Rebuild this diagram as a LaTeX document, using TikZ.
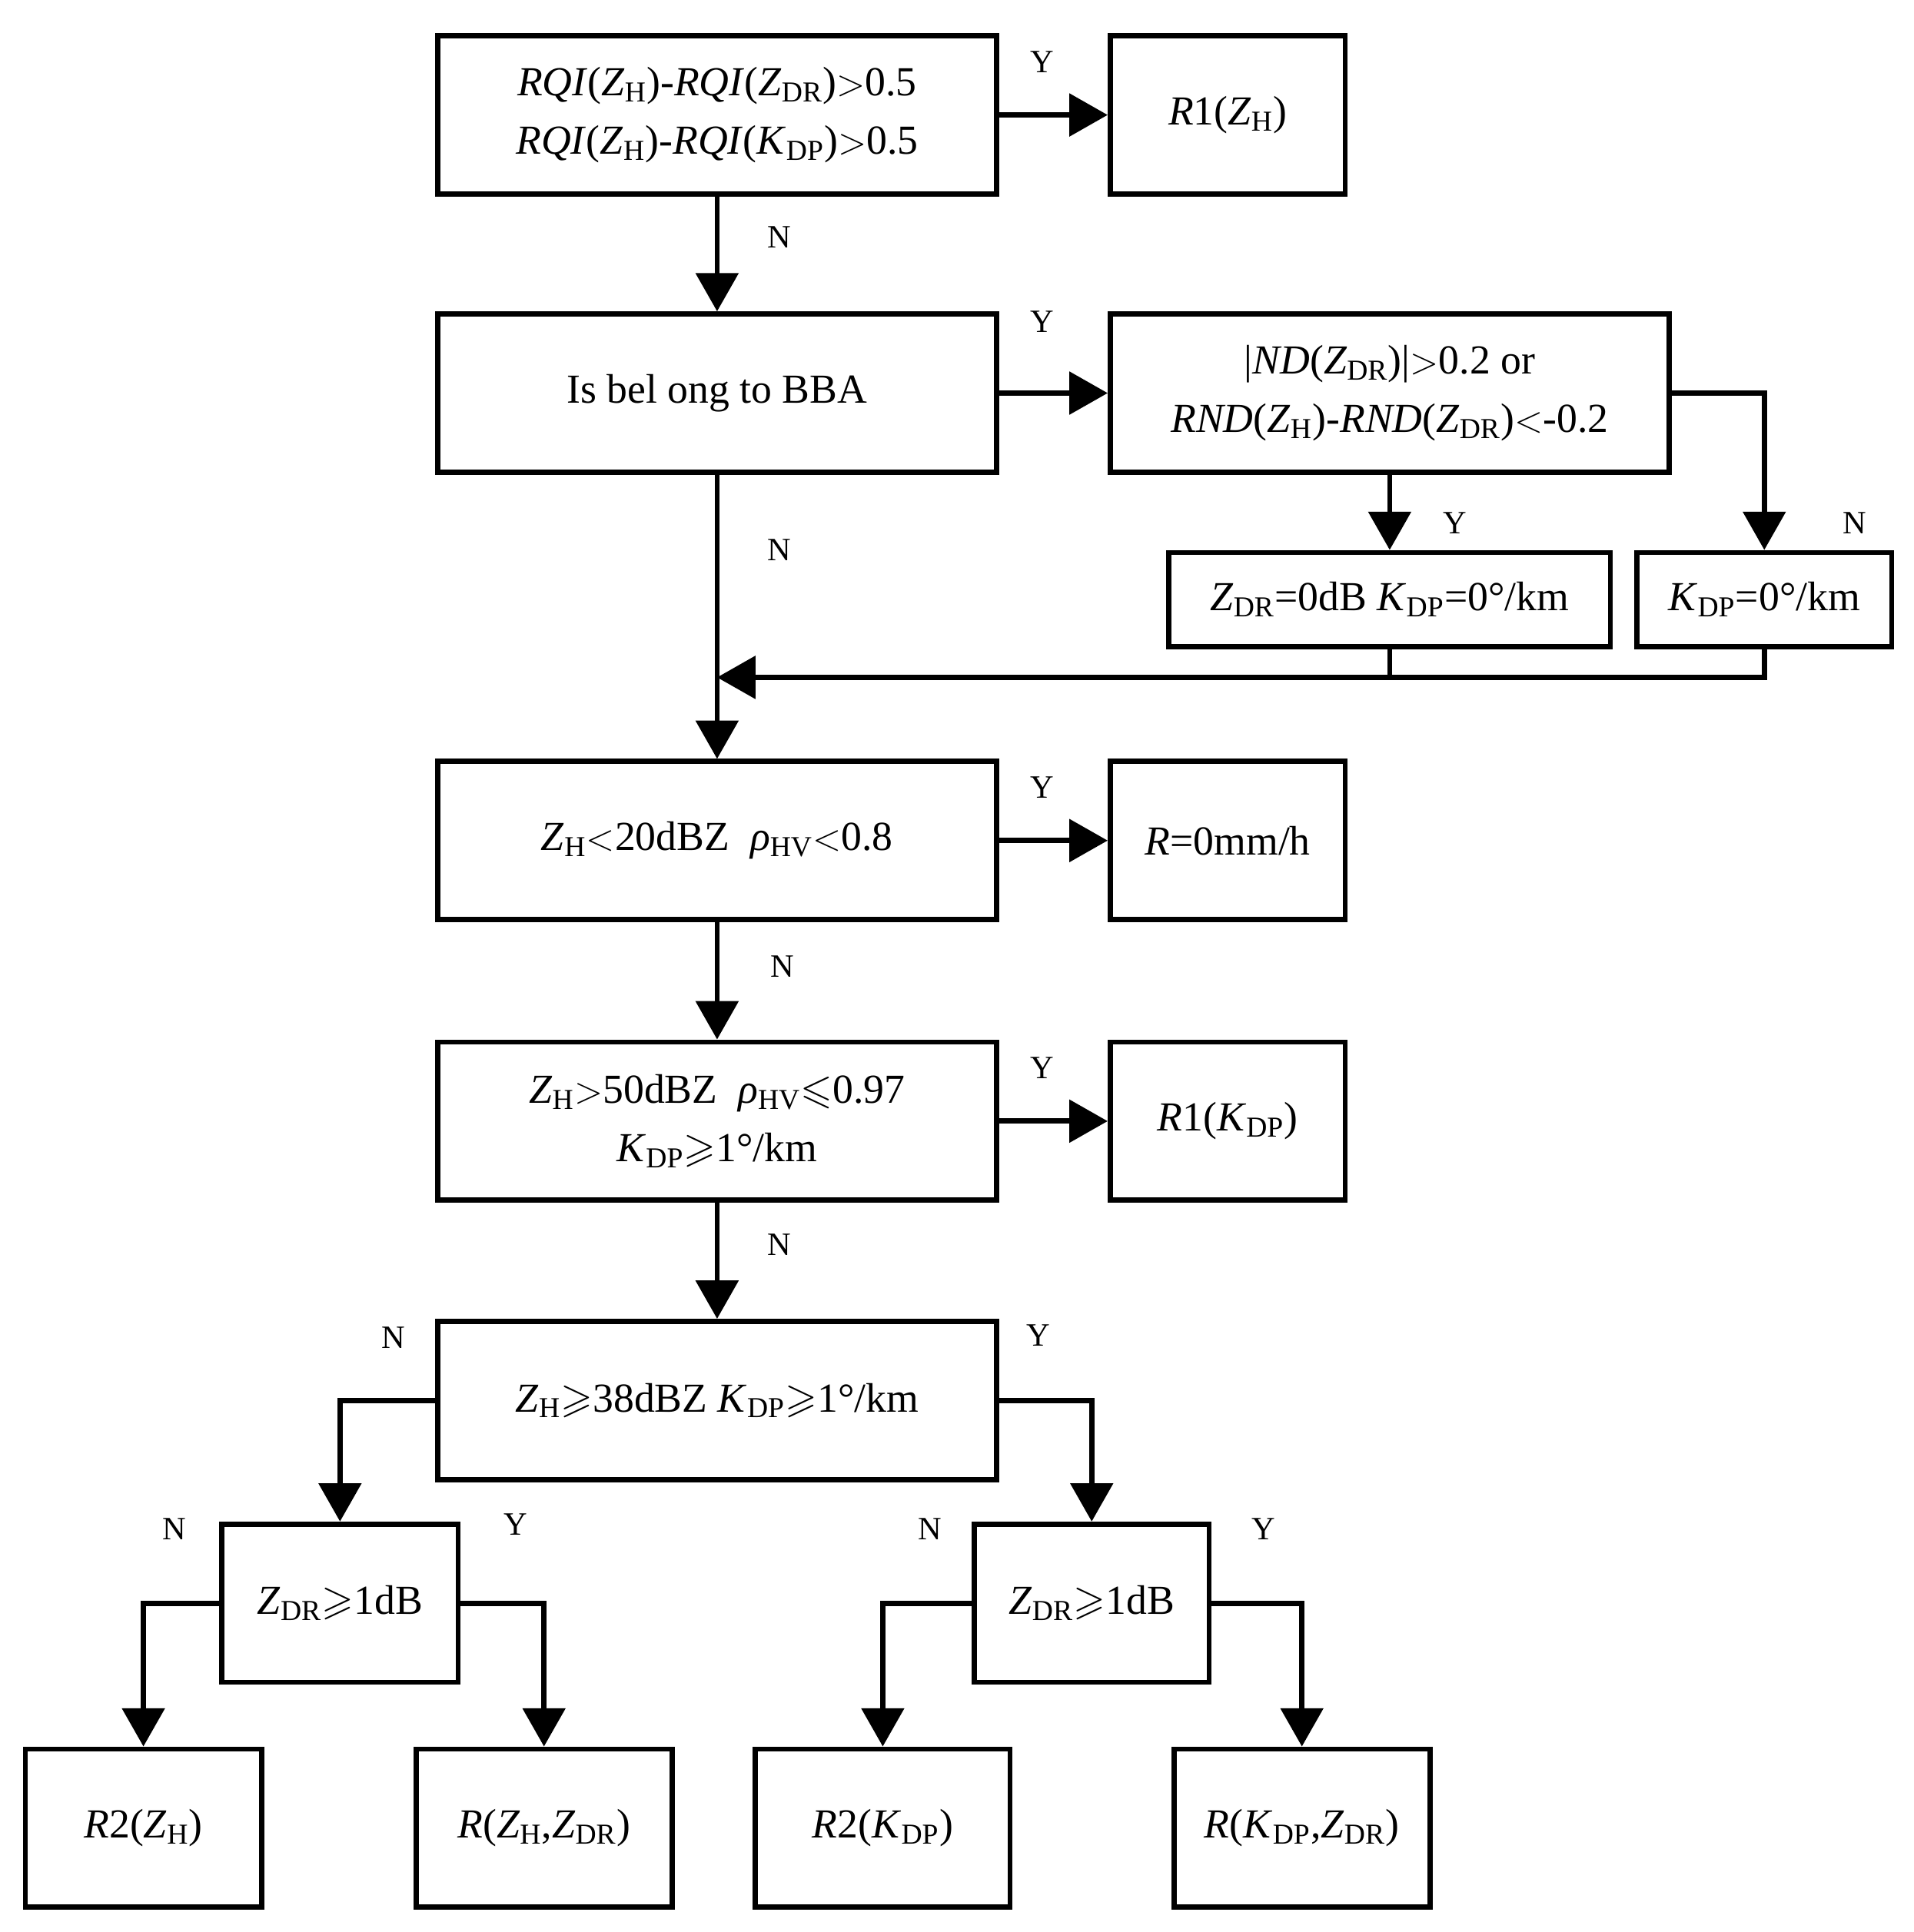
\documentclass[tikz,border=0pt]{standalone}
\usepackage{amssymb}
\usepackage{fontspec}
\setmainfont{Liberation Serif}
\usetikzlibrary{arrows.meta}
\newcommand{\sbs}[1]{\textsubscript{#1}}
\newcommand{\iz}[1]{\textit{Z}\sbs{#1}}
\newcommand{\kdp}{\textit{K}\sbs{DP}}
\begin{document}
\begin{tikzpicture}[x=0.02cm,y=-0.02cm,
 box/.style={draw,line width=2.4pt,inner sep=0pt,align=center,font=\fontsize{19}{27}\selectfont},
 arr/.style={line width=2.4pt,-{Triangle[length=0.62cm,width=0.68cm]}},
 ln/.style={line width=2.4pt},
 lab/.style={font=\fontsize{15}{18}\selectfont}]
\useasboundingbox (0,0) rectangle (1548,1563);
\def\bw{9.04cm}\def\bh{2.56cm}\def\rw{3.8cm}
\node[box,minimum width=\bw,minimum height=\bh] (b1) at (580,93) {\textit{RQI}(\iz{H})-\textit{RQI}(\iz{DR})$>$0.5\\\textit{RQI}(\iz{H})-\textit{RQI}(\kdp)$>$0.5};
\node[box,minimum width=\rw,minimum height=\bh] (r1) at (993,93) {\textit{R}1(\iz{H})};
\node[box,minimum width=\bw,minimum height=\bh] (b2) at (580,318) {Is bel ong to BBA};
\node[box,minimum width=\bw,minimum height=\bh] (b3) at (1124,318) {|\textit{ND}(\iz{DR})|$>$0.2 or\\\textit{RND}(\iz{H})-\textit{RND}(\iz{DR})$<$-0.2};
\node[box,minimum width=7.14cm,minimum height=1.52cm] (b3y) at (1124,485) {\iz{DR}=0dB \kdp=0°/km};
\node[box,minimum width=4.12cm,minimum height=1.52cm] (b3n) at (1427,485) {\kdp=0°/km};
\node[box,minimum width=\bw,minimum height=\bh] (b4) at (580,680) {\iz{H}$<$20dBZ\ \ \textit{ρ}\sbs{HV}$<$0.8};
\node[box,minimum width=\rw,minimum height=\bh] (r4) at (993,680) {\textit{R}=0mm/h};
\node[box,minimum width=\bw,minimum height=\bh] (b5) at (580,907) {\iz{H}$>$50dBZ\ \ \textit{ρ}\sbs{HV}$\leqslant$0.97\\\kdp$\geqslant$1°/km};
\node[box,minimum width=\rw,minimum height=\bh] (r5) at (993,907) {\textit{R}1(\kdp)};
\node[box,minimum width=\bw,minimum height=\bh] (b6) at (580,1133) {\iz{H}$\geqslant$38dBZ \kdp$\geqslant$1°/km};
\node[box,minimum width=3.82cm,minimum height=\bh] (b7) at (275,1297) {\iz{DR}$\geqslant$1dB};
\node[box,minimum width=3.8cm,minimum height=\bh] (b8) at (883,1297) {\iz{DR}$\geqslant$1dB};
\node[box,minimum width=3.82cm,minimum height=\bh] (l1) at (116,1479) {\textit{R}2(\iz{H})};
\node[box,minimum width=4.14cm,minimum height=\bh] (l2) at (440,1479) {\textit{R}(\iz{H},\iz{DR})};
\node[box,minimum width=4.12cm,minimum height=\bh] (l3) at (714,1479) {\textit{R}2(\kdp)};
\node[box,minimum width=4.14cm,minimum height=\bh] (l4) at (1053,1479) {\textit{R}(\kdp,\iz{DR})};
\coordinate (j) at (580,548);
\draw[arr] (b1) -- (r1);
\draw[arr] (b1) -- (b2);
\draw[arr] (b2) -- (b3);
\draw[arr] (b3.east) -| (b3n.north);
\draw[arr] (b3.south) -- (b3y.north);
\draw[ln] (b3y.south) -- (b3y.south |- j);
\draw[arr] (b3n.south) |- (j);
\draw[arr] (b2) -- (b4);
\draw[arr] (b4) -- (r4);
\draw[arr] (b4) -- (b5);
\draw[arr] (b5) -- (r5);
\draw[arr] (b5) -- (b6);
\draw[arr] (b6.west) -| (b7.north);
\draw[arr] (b6.east) -| (b8.north);
\draw[arr] (b7.west) -| (l1.north);
\draw[arr] (b7.east) -| (l2.north);
\draw[arr] (b8.west) -| (l3.north);
\draw[arr] (b8.east) -| (l4.north);
\node[lab] at (843,50) {Y};
\node[lab] at (630,192) {N};
\node[lab] at (843,260) {Y};
\node[lab] at (630,445) {N};
\node[lab] at (1177,423) {Y};
\node[lab] at (1500,423) {N};
\node[lab] at (843,637) {Y};
\node[lab] at (633,782) {N};
\node[lab] at (843,864) {Y};
\node[lab] at (630,1007) {N};
\node[lab] at (318,1082) {N};
\node[lab] at (840,1080) {Y};
\node[lab] at (141,1237) {N};
\node[lab] at (417,1233) {Y};
\node[lab] at (752,1237) {N};
\node[lab] at (1022,1237) {Y};
\end{tikzpicture}
\end{document}
